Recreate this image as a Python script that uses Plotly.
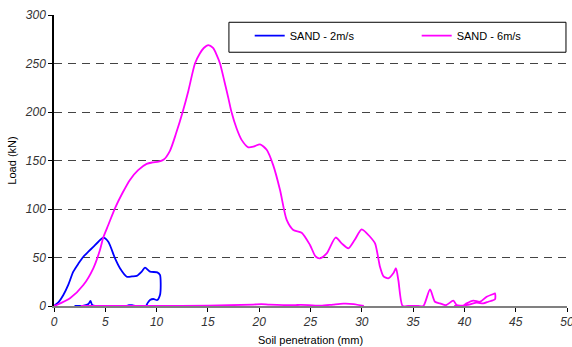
import plotly.graph_objects as go

# SAND - 2m/s (blue)
sand2_x = [0, 0.45, 0.91, 1.4, 1.88, 2.4, 2.86, 3.35, 3.83, 4.3, 4.8, 5.29, 5.95, 6.43, 7.09, 7.6,
           8.06, 8.55, 8.87, 9.36, 10.07, 10.33, 10.4, 10.33, 10.07, 9.68, 9.36, 9.1, 8.97,
           8.0, 7.6, 7.3, 7.0, 4.0, 3.7, 3.55, 3.35, 2.9, 2.0]
sand2_y = [0, 4, 11.3, 22, 35.4, 44, 50.8, 56, 61, 66, 70.4, 66.3, 49, 38.9, 30.2, 30.5,
           31, 35.4, 39.5, 35.4, 34.7, 32, 23.4, 11.3, 6.2, 7.2, 6.2, 2.7, 0,
           0, 0.8, 0.8, 0, 0, 1.5, 5.2, 2, 0.5, 0]

# SAND - 6m/s (magenta) loading branch
sand6_x = [0, 0.26, 1.56, 2.86, 3.83, 4.48, 4.81, 5.29, 5.95, 6.7, 7.4, 8.2, 9.03, 9.6, 10.2,
           10.7, 11.3, 11.9, 12.54, 13.1, 13.74, 14.2, 14.6, 15.04, 15.5, 15.85, 16.18, 16.6,
           17.0, 17.3, 17.8, 18.3, 18.94, 19.5, 20.08, 20.73, 21.37, 22.03, 22.68, 23.32,
           24.14, 24.95, 25.5, 25.93, 26.58, 27.45, 28.04, 28.69, 29.3, 29.99, 30.8, 31.29,
           31.77, 32.1, 32.58, 33.07, 33.33, 33.56, 33.98, 34.5, 35.5, 36.0, 36.65, 37.13,
           37.62, 38.2, 38.92, 39.25, 39.9, 40.22, 40.87, 41.52, 42.17, 42.82, 42.98, 42.98,
           42.33, 41.84, 41.2, 40.55, 39.9, 39.0]
sand6_y = [0, 1, 7.9, 21.6, 38.9, 57.7, 70.8, 83.5, 101, 117, 130, 140, 146.5, 148, 148.8,
           151, 160, 178, 200, 222, 250, 260, 266, 269, 266, 259, 250, 232,
           214, 200, 183, 171, 163.6, 164.5, 166.7, 161, 145, 119.6, 88.7, 78.4,
           75.6, 62.9, 51, 49.2, 54.3, 70.6, 64.6, 59.5, 68, 79, 71.4, 64.6,
           40.5, 30.9, 28.5, 33.7, 38.9, 26.8, 0, 0, 0, 0, 17.2, 4.4,
           2.7, 0.8, 5.5, 1, 0.5, 2.7, 5.5, 4.4, 9.6, 12.4, 13.1, 6.9,
           4.4, 2.7, 3.4, 1.7, 0.5, 0]

# SAND - 6m/s (magenta) return branch near zero
sand6_ret_x = [30.2, 29.2, 28.2, 27.2, 26.0, 24.8, 24.0, 23.4, 21.0, 20.2, 19.4, 15.0, 10.0, 2.6]
sand6_ret_y = [0, 2, 2.4, 1.5, 0.3, 1, 1.2, 0.8, 1.5, 2, 1.5, 0.3, 0, 0]

x_ticks = [0, 5, 10, 15, 20, 25, 30, 35, 40, 45, 50]
y_ticks = [0, 50, 100, 150, 200, 250, 300]

BLUE = "#0000FF"
MAGENTA = "#FF00FF"
FONT = "Liberation Sans, Arial, sans-serif"

fig = go.Figure()
fig.add_trace(go.Scatter(x=sand2_x, y=sand2_y, mode="lines", name="SAND - 2m/s",
                         legend="legend",
                         line=dict(color=BLUE, width=1.8, shape="spline", smoothing=0.7)))
fig.add_trace(go.Scatter(x=sand6_x, y=sand6_y, mode="lines", name="SAND - 6m/s",
                         legend="legend2", legendgroup="s6",
                         line=dict(color=MAGENTA, width=1.8, shape="spline", smoothing=0.7)))
fig.add_trace(go.Scatter(x=sand6_ret_x, y=sand6_ret_y, mode="lines", name="SAND - 6m/s",
                         legend="legend2", legendgroup="s6", showlegend=False,
                         line=dict(color=MAGENTA, width=1.8, shape="spline", smoothing=0.7)))

legend_common = dict(orientation="h", xanchor="left", y=0.979, yanchor="top",
                     bgcolor="rgba(0,0,0,0)", borderwidth=0,
                     font=dict(family=FONT, size=11, color="#000"))

fig.update_layout(
    width=572, height=347,
    margin=dict(l=54, r=5, t=15, b=41, autoexpand=False),
    paper_bgcolor="white", plot_bgcolor="white",
    font=dict(family=FONT, size=11, color="#000"),
    showlegend=True,
    legend=dict(x=0.3815, **legend_common),
    legend2=dict(x=0.707, **legend_common),
    shapes=[dict(type="rect", xref="paper", yref="paper", x0=0.341, x1=0.998,
                 y0=0.872, y1=0.975, line=dict(color="#000", width=1),
                 fillcolor="white", layer="below")],
)
fig.update_xaxes(range=[0, 50], tickvals=x_ticks,
                 ticktext=["<i>%d</i>" % v for v in x_ticks],
                 automargin=False, ticklabeloverflow="allow",
                 showgrid=False, zeroline=False, showline=True, linecolor="#808080",
                 linewidth=2, ticks="outside", ticklen=4, tickcolor="#000",
                 tickfont=dict(family=FONT, size=12, color="#333"),
                 title=dict(text="Soil penetration (mm)", standoff=8,
                            font=dict(family=FONT, size=11, color="#000")))
fig.update_yaxes(range=[0, 300], tickvals=y_ticks,
                 ticktext=["<i>%d</i>" % v for v in y_ticks],
                 automargin=False,
                 showgrid=True, gridcolor="#444", gridwidth=1, griddash="8px,6px",
                 zeroline=False, showline=True, linecolor="#000", linewidth=1.5,
                 ticks="outside", ticklen=4, tickcolor="#000",
                 tickfont=dict(family=FONT, size=12, color="#333"),
                 title=dict(text="Load (kN)", standoff=6,
                            font=dict(family=FONT, size=11, color="#000")))

fig.write_html("out.html", config={"displayModeBar": False},
               post_script="document.body.style.margin='0';")
